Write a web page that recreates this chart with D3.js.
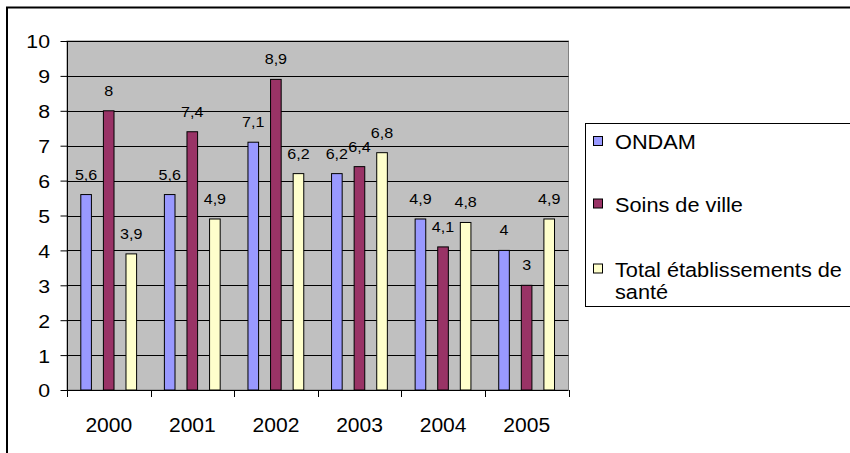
<!DOCTYPE html>
<html>
<head>
<meta charset="utf-8">
<script src="https://cdn.jsdelivr.net/npm/d3@7"></script>
<style>
  html, body { margin: 0; padding: 0; background: #fff; }
  svg { display: block; }
  text { font-family: "Liberation Sans", Arial, sans-serif; fill: #000; }
</style>
</head>
<body>
<script>
// Taux d'évolution annuels (%)
const years = ["2000", "2001", "2002", "2003", "2004", "2005"];
const seriesNames = ["ONDAM", "Soins de ville", "Total établissements de santé"];
const ondam = [5.6, 5.6, 7.1, 6.2, 4.9, 4.0];
const soinsDeVille = [8, 7.4, 8.9, 6.4, 4.1, 3];
const etablissements = [3.9, 4.9, 6.2, 6.8, 4.8, 4.9];
const yTicks = [0, 1, 2, 3, 4, 5, 6, 7, 8, 9, 10];
const seriesColors = ["#9999FF", "#993366", "#FFFFCC"];

const seriesValues = [ondam, soinsDeVille, etablissements];

const W = 850, H = 453;
const plot = { left: 67, right: 568.5, top: 41, bottom: 390 };

const svg = d3.select("body").append("svg")
  .attr("width", W).attr("height", H);

// Horizontally widened text, as rendered by the spreadsheet export
function stretched(sel, x, y, sx) {
  sel.attr("transform", `translate(${x},${y}) scale(${sx},1)`);
}

// Outer chart frame (runs past the right and bottom edges)
svg.append("rect")
  .attr("x", 7).attr("y", 7.5)
  .attr("width", 900).attr("height", 500)
  .attr("fill", "#fff").attr("stroke", "#000").attr("stroke-width", 2);

const x0 = d3.scaleBand().domain(years).range([plot.left, plot.right]);
const x1 = d3.scaleBand().domain(d3.range(3))
  .range([13.8, 69.6]).paddingInner(0.53);
const y = d3.scaleLinear().domain([0, 10]).range([plot.bottom, plot.top]);

// Plot area
svg.append("rect")
  .attr("x", plot.left).attr("y", plot.top)
  .attr("width", plot.right - plot.left).attr("height", plot.bottom - plot.top)
  .attr("fill", "#C0C0C0").attr("stroke", "#808080").attr("stroke-width", 1);

// Horizontal gridlines
svg.append("g").selectAll("line")
  .data(yTicks.filter(d => d > 0))
  .join("line")
  .attr("x1", plot.left).attr("x2", plot.right)
  .attr("y1", d => Math.round(y(d)) + 0.5).attr("y2", d => Math.round(y(d)) + 0.5)
  .attr("stroke", "#000").attr("stroke-width", 1);

// Y axis
const yAxis = svg.append("g")
  .attr("transform", `translate(${plot.left + 0.5},0)`)
  .call(d3.axisLeft(y).tickValues(yTicks).tickSize(7).tickSizeOuter(0).tickFormat(""));
yAxis.selectAll("line, path").attr("stroke", "#000");
yAxis.select(".domain").attr("d", `M0,${plot.top}V${plot.bottom}`);

svg.append("g").selectAll("text")
  .data(yTicks)
  .join("text")
  .attr("text-anchor", "end")
  .attr("dominant-baseline", "central")
  .attr("font-size", 18.5)
  .each(function (d) { stretched(d3.select(this), 50, y(d) + 1, 1.15); })
  .text(d => d);

// X axis with ticks at category boundaries
const boundaries = years.map(d => x0(d)).concat([plot.right]);
const xg = svg.append("g");
xg.append("line")
  .attr("x1", plot.left).attr("x2", plot.right)
  .attr("y1", plot.bottom + 0.5).attr("y2", plot.bottom + 0.5)
  .attr("stroke", "#000");
xg.selectAll("line.tick")
  .data(boundaries)
  .join("line").attr("class", "tick")
  .attr("x1", d => Math.round(d) + 0.5).attr("x2", d => Math.round(d) + 0.5)
  .attr("y1", plot.bottom).attr("y2", plot.bottom + 7)
  .attr("stroke", "#000");

svg.append("g").selectAll("text")
  .data(years)
  .join("text")
  .attr("text-anchor", "middle")
  .attr("font-size", 19.5)
  .each(function (d) { stretched(d3.select(this), x0(d) + x0.bandwidth() / 2, 431.5, 1.08); })
  .text(d => d);

// Bars
const groups = svg.append("g").selectAll("g")
  .data(years)
  .join("g")
  .attr("transform", d => `translate(${x0(d)},0)`);

groups.selectAll("rect")
  .data((d, i) => seriesValues.map((vals, s) => ({ s, v: vals[i] })))
  .join("rect")
  .attr("x", d => x1(d.s))
  .attr("y", d => y(d.v))
  .attr("width", x1.bandwidth())
  .attr("height", d => y(0) - y(d.v))
  .attr("fill", d => seriesColors[d.s])
  .attr("stroke", "#000").attr("stroke-width", 1);

// Value labels
groups.selectAll("text")
  .data((d, i) => seriesValues.map((vals, s) => ({ s, v: vals[i] })))
  .join("text")
  .attr("text-anchor", "middle")
  .attr("font-size", 14)
  .each(function (d) {
    stretched(d3.select(this), x1(d.s) + x1.bandwidth() / 2, y(d.v) - 15, 1.15);
  })
  .text(d => String(d.v).replace(".", ","));

// Legend
const legend = svg.append("g");
legend.append("rect")
  .attr("x", 585.5).attr("y", 123.5)
  .attr("width", 300).attr("height", 183)
  .attr("fill", "#fff").attr("stroke", "#000").attr("stroke-width", 1);

const legendLines = [["ONDAM"], ["Soins de ville"], ["Total établissements de", "santé"]];
const legendBase = [149, 211.5, 276.5];

legendLines.forEach((lines, i) => {
  legend.append("rect")
    .attr("x", 593.5).attr("y", legendBase[i] - 12.5)
    .attr("width", 9).attr("height", 9)
    .attr("fill", seriesColors[i]).attr("stroke", "#000").attr("stroke-width", 1);
  lines.forEach((t, j) => {
    legend.append("text")
      .attr("font-size", 20.5)
      .each(function () { stretched(d3.select(this), 615, legendBase[i] + j * 22.5, 1.06); })
      .text(t);
  });
});
</script>
</body>
</html>
